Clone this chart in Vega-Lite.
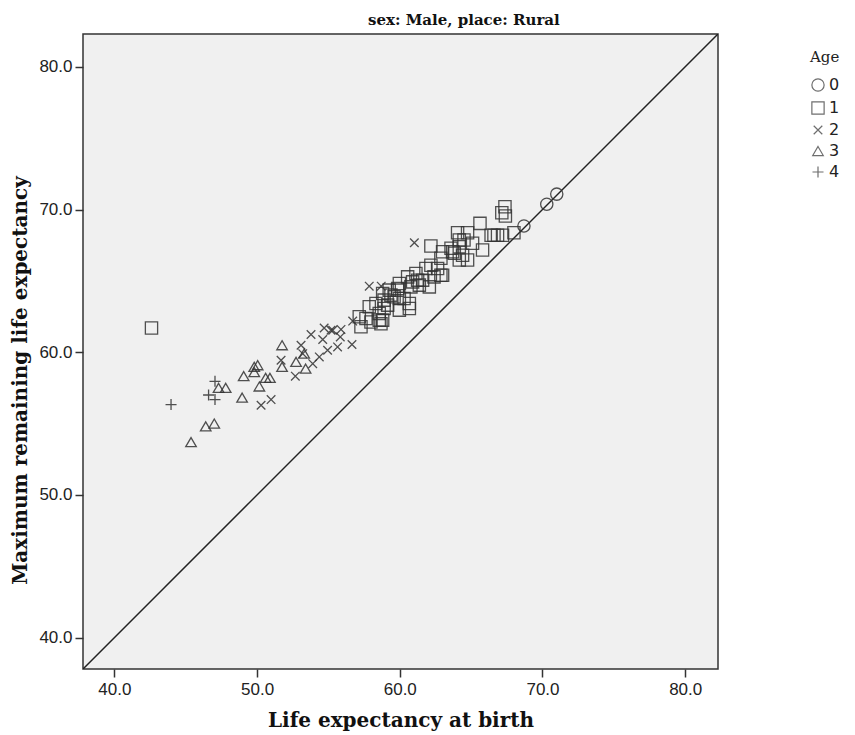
{
  "$schema": "https://vega.github.io/schema/vega-lite/v6.json",
  "autosize": "none",
  "width": 635,
  "height": 635,
  "padding": {"left": 83, "top": 34, "right": 137, "bottom": 66},
  "background": "white",
  "config": {
    "view": {"fill": "#F0F0F0", "stroke": "#333333", "strokeWidth": 1.5},
    "axis": {
      "domain": false, "grid": false, "tickColor": "#333333", "tickSize": 8, "tickWidth": 1.5,
      "labelFont": "Liberation Sans", "labelFontSize": 17, "labelColor": "#222222",
      "titleFont": "DejaVu Serif", "titleFontSize": 20, "titleFontWeight": "bold", "titleColor": "#111111"
    }
  },
  "title": {
    "text": "sex: Male, place: Rural",
    "anchor": "start", "frame": "group", "dx": 285, "offset": 6,
    "font": "DejaVu Serif", "fontSize": 15, "fontWeight": "bold", "color": "#111111"
  },
  "datasets": {
    "pts": [
      {"age": "0", "birth": 68.7, "maxrem": 68.85},
      {"age": "0", "birth": 70.3, "maxrem": 70.37},
      {"age": "0", "birth": 71.0, "maxrem": 71.08},
      {"age": "1", "birth": 42.6, "maxrem": 61.7},
      {"age": "1", "birth": 57.16, "maxrem": 62.48},
      {"age": "1", "birth": 57.63, "maxrem": 62.36},
      {"age": "1", "birth": 57.98, "maxrem": 62.12},
      {"age": "1", "birth": 57.28, "maxrem": 61.78},
      {"age": "1", "birth": 58.56, "maxrem": 62.25},
      {"age": "1", "birth": 58.68, "maxrem": 62.0},
      {"age": "1", "birth": 58.56, "maxrem": 62.72},
      {"age": "1", "birth": 57.86, "maxrem": 63.18},
      {"age": "1", "birth": 58.33, "maxrem": 63.42},
      {"age": "1", "birth": 58.9, "maxrem": 63.65},
      {"age": "1", "birth": 59.38, "maxrem": 64.0},
      {"age": "1", "birth": 59.85, "maxrem": 64.47},
      {"age": "1", "birth": 58.9, "maxrem": 63.07},
      {"age": "1", "birth": 59.97, "maxrem": 62.95},
      {"age": "1", "birth": 60.67, "maxrem": 63.07},
      {"age": "1", "birth": 59.97, "maxrem": 63.77},
      {"age": "1", "birth": 58.8, "maxrem": 62.25},
      {"age": "1", "birth": 59.97, "maxrem": 64.82},
      {"age": "1", "birth": 59.85, "maxrem": 64.35},
      {"age": "1", "birth": 59.26, "maxrem": 64.35},
      {"age": "1", "birth": 59.6, "maxrem": 63.88},
      {"age": "1", "birth": 58.8, "maxrem": 64.12},
      {"age": "1", "birth": 59.15, "maxrem": 63.3},
      {"age": "1", "birth": 60.3, "maxrem": 63.77},
      {"age": "1", "birth": 60.67, "maxrem": 63.42},
      {"age": "1", "birth": 60.55, "maxrem": 65.28},
      {"age": "1", "birth": 60.9, "maxrem": 64.93},
      {"age": "1", "birth": 61.25, "maxrem": 65.05},
      {"age": "1", "birth": 61.37, "maxrem": 64.7},
      {"age": "1", "birth": 60.78, "maxrem": 64.58},
      {"age": "1", "birth": 61.6, "maxrem": 65.05},
      {"age": "1", "birth": 62.18, "maxrem": 66.1},
      {"age": "1", "birth": 62.4, "maxrem": 65.28},
      {"age": "1", "birth": 62.07, "maxrem": 64.58},
      {"age": "1", "birth": 62.88, "maxrem": 65.4},
      {"age": "1", "birth": 62.65, "maxrem": 65.87},
      {"age": "1", "birth": 62.88, "maxrem": 66.58},
      {"age": "1", "birth": 63.82, "maxrem": 66.93},
      {"age": "1", "birth": 64.4, "maxrem": 66.8},
      {"age": "1", "birth": 64.75, "maxrem": 66.46},
      {"age": "1", "birth": 62.18, "maxrem": 67.44},
      {"age": "1", "birth": 63.59, "maxrem": 67.28},
      {"age": "1", "birth": 64.17, "maxrem": 67.39},
      {"age": "1", "birth": 61.13, "maxrem": 65.52},
      {"age": "1", "birth": 61.83, "maxrem": 65.87},
      {"age": "1", "birth": 63.0, "maxrem": 65.4},
      {"age": "1", "birth": 63.0, "maxrem": 67.04},
      {"age": "1", "birth": 63.7, "maxrem": 67.04},
      {"age": "1", "birth": 64.17, "maxrem": 66.46},
      {"age": "1", "birth": 65.1, "maxrem": 67.63},
      {"age": "1", "birth": 65.8, "maxrem": 67.16},
      {"age": "1", "birth": 64.17, "maxrem": 67.86},
      {"age": "1", "birth": 64.5, "maxrem": 67.86},
      {"age": "1", "birth": 64.05, "maxrem": 68.37},
      {"age": "1", "birth": 64.75, "maxrem": 68.37},
      {"age": "1", "birth": 65.62, "maxrem": 69.03},
      {"age": "1", "birth": 66.4, "maxrem": 68.2},
      {"age": "1", "birth": 66.6, "maxrem": 68.2},
      {"age": "1", "birth": 66.85, "maxrem": 68.2},
      {"age": "1", "birth": 67.2, "maxrem": 68.2},
      {"age": "1", "birth": 68.0, "maxrem": 68.37},
      {"age": "1", "birth": 67.37, "maxrem": 70.2},
      {"age": "1", "birth": 67.15, "maxrem": 69.78},
      {"age": "1", "birth": 67.4, "maxrem": 69.55},
      {"age": "2", "birth": 50.28, "maxrem": 56.28},
      {"age": "2", "birth": 50.98, "maxrem": 56.68},
      {"age": "2", "birth": 51.68, "maxrem": 59.44},
      {"age": "2", "birth": 52.68, "maxrem": 58.32},
      {"age": "2", "birth": 53.08, "maxrem": 60.49},
      {"age": "2", "birth": 53.78, "maxrem": 61.24},
      {"age": "2", "birth": 54.7, "maxrem": 61.7},
      {"age": "2", "birth": 55.18, "maxrem": 61.54},
      {"age": "2", "birth": 55.88, "maxrem": 61.6},
      {"age": "2", "birth": 54.6, "maxrem": 60.89},
      {"age": "2", "birth": 55.83, "maxrem": 61.07},
      {"age": "2", "birth": 55.64, "maxrem": 60.37},
      {"age": "2", "birth": 56.65, "maxrem": 60.54},
      {"age": "2", "birth": 54.94, "maxrem": 60.14},
      {"age": "2", "birth": 54.36, "maxrem": 59.67},
      {"age": "2", "birth": 53.9, "maxrem": 59.2},
      {"age": "2", "birth": 53.2, "maxrem": 59.9},
      {"age": "2", "birth": 56.7, "maxrem": 62.18},
      {"age": "2", "birth": 57.86, "maxrem": 64.63},
      {"age": "2", "birth": 58.7, "maxrem": 64.63},
      {"age": "2", "birth": 61.02, "maxrem": 67.67},
      {"age": "2", "birth": 55.3, "maxrem": 61.54},
      {"age": "3", "birth": 45.37, "maxrem": 53.7},
      {"age": "3", "birth": 46.4, "maxrem": 54.8},
      {"age": "3", "birth": 47.0, "maxrem": 55.0},
      {"age": "3", "birth": 47.3, "maxrem": 57.5},
      {"age": "3", "birth": 47.8, "maxrem": 57.5},
      {"age": "3", "birth": 48.95, "maxrem": 56.82},
      {"age": "3", "birth": 49.06, "maxrem": 58.32},
      {"age": "3", "birth": 49.8, "maxrem": 58.97},
      {"age": "3", "birth": 50.04, "maxrem": 59.09},
      {"age": "3", "birth": 49.8, "maxrem": 58.6},
      {"age": "3", "birth": 50.16, "maxrem": 57.6},
      {"age": "3", "birth": 50.6, "maxrem": 58.2},
      {"age": "3", "birth": 50.9, "maxrem": 58.2},
      {"age": "3", "birth": 51.75, "maxrem": 60.49},
      {"age": "3", "birth": 51.75, "maxrem": 58.97},
      {"age": "3", "birth": 52.73, "maxrem": 59.32},
      {"age": "3", "birth": 53.3, "maxrem": 59.9},
      {"age": "3", "birth": 53.4, "maxrem": 58.85},
      {"age": "4", "birth": 43.97, "maxrem": 56.33},
      {"age": "4", "birth": 47.05, "maxrem": 57.96},
      {"age": "4", "birth": 46.6, "maxrem": 57.0},
      {"age": "4", "birth": 47.05, "maxrem": 56.68}
    ],
    "diag": [
      {"birth": 37.8, "maxrem": 37.8},
      {"birth": 82.3, "maxrem": 82.3}
    ]
  },
  "layer": [
    {
      "data": {"name": "diag"},
      "mark": {"type": "line", "color": "#222222", "strokeWidth": 1.5, "clip": true},
      "encoding": {
        "x": {"field": "birth", "type": "quantitative"},
        "y": {"field": "maxrem", "type": "quantitative"}
      }
    },
    {
      "data": {"name": "pts"},
      "mark": {"type": "point", "filled": false, "size": 150, "strokeWidth": 1.3, "opacity": 0.85, "color": "#333333"},
      "encoding": {
        "x": {
          "field": "birth", "type": "quantitative",
          "scale": {"domain": [37.8, 82.3], "nice": false, "zero": false},
          "axis": {"values": [40, 50, 60, 70, 80], "format": ".1f", "title": "Life expectancy at birth", "titlePadding": 13, "labelPadding": 4}
        },
        "y": {
          "field": "maxrem", "type": "quantitative",
          "scale": {"domain": [37.8, 82.3], "nice": false, "zero": false},
          "axis": {"values": [40, 50, 60, 70, 80], "format": ".1f", "title": "Maximum remaining life expectancy", "titlePadding": 8, "labelPadding": 3, "titleY": 346}
        },
        "shape": {
          "field": "age", "type": "nominal", "title": "Age",
          "scale": {
            "domain": ["0", "1", "2", "3", "4"],
            "range": ["circle", "square", "M-0.7,-0.7L0.7,0.7M-0.7,0.7L0.7,-0.7", "M0,-0.74L0.86,0.74L-0.86,0.74Z", "M-0.9,0L0.9,0M0,-0.9L0,0.9"]
          },
          "legend": {
            "orient": "none", "legendX": 727, "legendY": 16,
            "titleFont": "DejaVu Serif", "titleFontSize": 15, "titleFontWeight": "normal", "titleColor": "#222222",
            "labelFont": "DejaVu Sans", "labelFontSize": 16, "labelColor": "#222222",
            "symbolSize": 150, "symbolStrokeWidth": 1.2, "symbolStrokeColor": "#555555", "rowPadding": 5, "labelOffset": 3, "titlePadding": 12
          }
        }
      }
    }
  ]
}
